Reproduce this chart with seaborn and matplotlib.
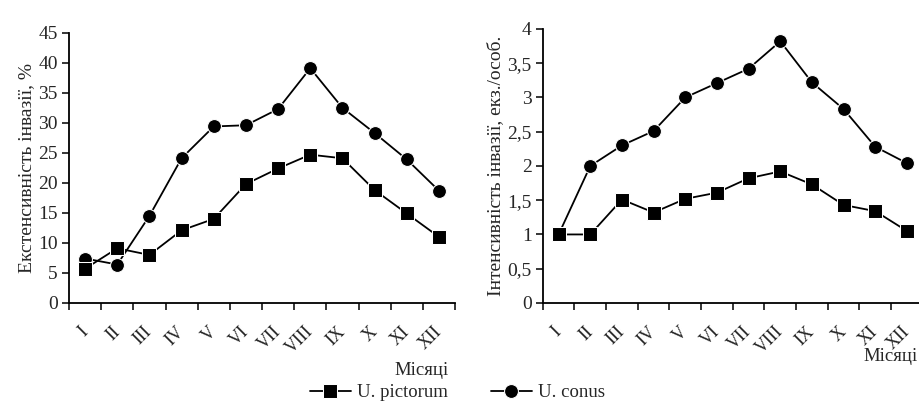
import numpy as np
import pandas as pd
import seaborn as sns
from matplotlib import pyplot as plt

# months and values
months = ['I', 'II', 'III', 'IV', 'V', 'VI', 'VII', 'VIII', 'IX', 'X', 'XI', 'XII']
ext_pictorum = [5.7, 9.1, 8.0, 12.1, 14.0, 19.8, 22.4, 24.7, 24.1, 18.8, 14.9, 11.0]
ext_conus = [7.4, 6.4, 14.5, 24.1, 29.4, 29.6, 32.3, 39.1, 32.5, 28.3, 23.9, 18.7]
int_pictorum = [1.0, 1.0, 1.51, 1.32, 1.52, 1.61, 1.82, 1.92, 1.73, 1.43, 1.34, 1.05]
int_conus = [1.0, 2.0, 2.3, 2.51, 3.0, 3.21, 3.42, 3.82, 3.22, 2.83, 2.28, 2.04]
int_ticks = [0, 0.5, 1, 1.5, 2, 2.5, 3, 3.5, 4]
int_ticklabels = ['0', '0,5', '1', '1,5', '2', '2,5', '3', '3,5', '4']

sns.set_style('ticks')
plt.rcParams['font.family'] = ['Liberation Serif', 'DejaVu Serif']

ext = pd.DataFrame({'Month': months, 'U. pictorum': ext_pictorum, 'U. conus': ext_conus})
inten = pd.DataFrame({'Month': months, 'U. pictorum': int_pictorum, 'U. conus': int_conus})

fig = plt.figure(figsize=(9.2, 4.05), dpi=100)
ax1 = fig.add_axes([0.075, 0.252, 0.4196, 0.667])
ax2 = fig.add_axes([0.590, 0.252, 0.413, 0.6765])


def draw_panel(ax, df, ylabel):
    # squares sit on top of the circles where they overlap
    sns.lineplot(x='Month', y='U. pictorum', data=df, ax=ax, color='black', marker='s',
                 markersize=10, linewidth=1.3, label='U. pictorum', zorder=4)
    sns.lineplot(x='Month', y='U. conus', data=df, ax=ax, color='black', marker='o',
                 markersize=10, linewidth=1.3, label='U. conus', zorder=3)
    ax.set_xlim(-0.5, len(months) - 0.5)
    ax.set_xticks(range(len(months)))
    ax.set_xticklabels(months, rotation=45, ha='right', va='center', rotation_mode='anchor',
                       fontsize=13)
    ax.set_xticks(np.arange(-0.5, len(months), 1), minor=True)
    ax.tick_params(axis='x', which='major', length=0, pad=19)
    ax.tick_params(axis='x', which='minor', length=5, width=1.1, direction='out', color='black')
    ax.tick_params(axis='y', length=5, width=1.1, direction='out', color='black',
                   labelsize=14, pad=3)
    ax.set_xlabel('')
    ax.set_ylabel(ylabel, fontsize=14, labelpad=2)
    for side in ['left', 'bottom']:
        ax.spines[side].set_linewidth(1.3)
        ax.spines[side].set_color('black')
    sns.despine(ax=ax)
    ax.get_legend().remove()


draw_panel(ax1, ext, 'Екстенсивність інвазії, %')
ax1.set_ylim(0, 45)
ax1.set_yticks(range(0, 50, 5))

draw_panel(ax2, inten, 'Інтенсивність інвазії, екз./особ.')
ax2.set_ylim(0, 4)
ax2.set_yticks(int_ticks)
ax2.set_yticklabels(int_ticklabels)

fig.text(0.488, 0.075, 'Місяці', fontsize=13.5, ha='right')
fig.text(0.998, 0.108, 'Місяці', fontsize=13.5, ha='right')

handles, labels = ax1.get_legend_handles_labels()
fig.legend(handles, labels, loc='center', bbox_to_anchor=(0.497, 0.03), ncol=2,
           frameon=False, fontsize=13.5, handlelength=2.2, columnspacing=2.3,
           handletextpad=0.3, borderpad=0.1)

fig.savefig('out.png', dpi=100)
